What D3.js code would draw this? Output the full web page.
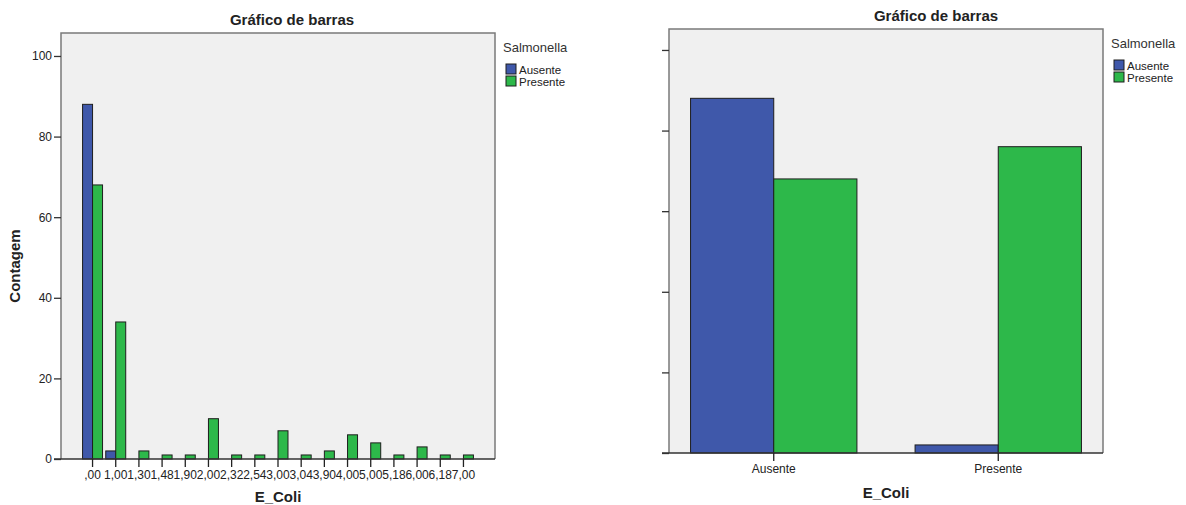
<!DOCTYPE html>
<html>
<head>
<meta charset="utf-8">
<script src="https://cdn.jsdelivr.net/npm/d3@7"></script>
<style>
  body { margin: 0; background: #fff; }
  svg { font-family: "Liberation Sans", Arial, sans-serif; }
</style>
</head>
<body>
<svg id="chart" width="1186" height="505"></svg>
<script>
// E_Coli values on the left chart
const eColiCats = [',00', '1,00', '1,30', '1,48', '1,90', '2,00', '2,32', '2,54', '3,00',
  '3,04', '3,90', '4,00', '5,00', '5,18', '6,00', '6,18', '7,00'];
const ausenteCounts = [88, 2, 0, 0, 0, 0, 0, 0, 0, 0, 0, 0, 0, 0, 0, 0, 0];
const presenteCounts = [68, 34, 2, 1, 1, 10, 1, 1, 7, 1, 2, 6, 4, 1, 3, 1, 1];

// E_Coli as categories on the right chart
const eColiGroups = ['Ausente', 'Presente'];
const groupAusente = [88, 2];
const groupPresente = [68, 76];

const salmonella = ['Ausente', 'Presente'];
const yTicks = [0, 20, 40, 60, 80, 100];

const colors = { Ausente: '#3f58aa', Presente: '#2db84a' };
const svg = d3.select('#chart');

function drawPanel(cfg) {
  const g = svg.append('g');
  const x = d3.scaleBand()
    .domain(cfg.cats)
    .range([cfg.left, cfg.right])
    .paddingInner(cfg.padIn)
    .paddingOuter(cfg.padOut);
  const xs = d3.scaleBand().domain(salmonella).range([0, x.bandwidth()]);
  const y = d3.scaleLinear().domain([0, cfg.yMax]).range([cfg.bottom, cfg.top]);

  // plot background
  g.append('rect')
    .attr('x', cfg.left).attr('y', cfg.top)
    .attr('width', cfg.right - cfg.left).attr('height', cfg.bottom - cfg.top)
    .attr('fill', '#f0f0f0');

  // bars
  const rows = cfg.cats.map((c, i) => ({ cat: c, Ausente: cfg.a[i], Presente: cfg.p[i] }));
  g.append('g').selectAll('g')
    .data(rows)
    .enter().append('g')
    .attr('transform', d => `translate(${x(d.cat)},0)`)
    .selectAll('rect')
    .data(d => salmonella.map(s => ({ s, v: d[s] })).filter(e => e.v > 0))
    .enter().append('rect')
    .attr('x', d => xs(d.s))
    .attr('width', xs.bandwidth())
    .attr('y', d => y(d.v))
    .attr('height', d => y(0) - y(d.v))
    .attr('fill', d => colors[d.s])
    .attr('stroke', '#1e1e1e')
    .attr('stroke-width', 1);

  // frame (top, left, right)
  g.append('path')
    .attr('d', `M${cfg.left},${cfg.bottom}V${cfg.top}H${cfg.right}V${cfg.bottom}`)
    .attr('fill', 'none')
    .attr('stroke', '#7a7a7a')
    .attr('stroke-width', 1.5);

  // y axis
  const yAxis = d3.axisLeft(y).tickValues(yTicks).tickSize(7).tickPadding(2)
    .tickFormat(cfg.yLabels ? d3.format('d') : '');
  const ya = g.append('g').attr('transform', `translate(${cfg.left},0)`).call(yAxis);
  ya.select('.domain').remove();
  ya.selectAll('line').attr('stroke', '#333').attr('stroke-width', 1.3);
  ya.selectAll('text').attr('font-size', 12).attr('fill', '#222')
    .attr('font-family', '"Liberation Sans", Arial, sans-serif');

  // x axis
  const xAxis = d3.axisBottom(x).tickSize(8).tickPadding(3).tickSizeOuter(0);
  const xa = g.append('g').attr('transform', `translate(0,${cfg.bottom})`).call(xAxis);
  xa.select('.domain').attr('d', `M${cfg.left - 7},0H${cfg.right}`)
    .attr('stroke', '#333').attr('stroke-width', 1.3);
  xa.selectAll('line').attr('stroke', '#222').attr('stroke-width', 1.3);
  xa.selectAll('text').attr('font-size', cfg.xFont).attr('fill', '#222')
    .attr('font-family', '"Liberation Sans", Arial, sans-serif');

  // title and axis labels
  g.append('text')
    .attr('x', cfg.titleX).attr('y', cfg.top - 8)
    .attr('text-anchor', 'middle')
    .attr('font-size', 15).attr('font-weight', 'bold').attr('fill', '#222')
    .text('Gráfico de barras');
  g.append('text')
    .attr('x', (cfg.left + cfg.right) / 2).attr('y', cfg.xLabelY)
    .attr('text-anchor', 'middle')
    .attr('font-size', 15).attr('font-weight', 'bold').attr('fill', '#222')
    .text('E_Coli');
  if (cfg.yLabel) {
    g.append('text')
      .attr('transform', `translate(20,${(cfg.top + cfg.bottom) / 2 + 20}) rotate(-90)`)
      .attr('text-anchor', 'middle')
      .attr('font-size', 15).attr('font-weight', 'bold').attr('fill', '#222')
      .text(cfg.yLabel);
  }

  // legend
  const lg = g.append('g').attr('transform', `translate(${cfg.right + 8},0)`);
  lg.append('text')
    .attr('x', 0).attr('y', cfg.top + 19)
    .attr('font-size', 13).attr('fill', '#333')
    .text('Salmonella');
  const item = lg.selectAll('g.item')
    .data(salmonella)
    .enter().append('g')
    .attr('class', 'item')
    .attr('transform', (d, i) => `translate(3,${cfg.top + 31 + i * 12})`);
  item.append('rect')
    .attr('width', 10).attr('height', 10)
    .attr('fill', d => colors[d])
    .attr('stroke', '#1e1e1e');
  item.append('text')
    .attr('x', 13).attr('y', 9.5)
    .attr('font-size', 11.5).attr('fill', '#222')
    .text(d => d);
}

drawPanel({
  cats: eColiCats, a: ausenteCounts, p: presenteCounts,
  left: 61, right: 495, top: 33, bottom: 459, yMax: 105.7,
  padIn: 0.138, padOut: 0.93,
  yLabels: true, yLabel: 'Contagem', xFont: 12,
  titleX: 292, xLabelY: 502
});

drawPanel({
  cats: eColiGroups, a: groupAusente, p: groupPresente,
  left: 669, right: 1103, top: 29, bottom: 453, yMax: 105.2,
  padIn: 0.259, padOut: 0.096,
  yLabels: false, yLabel: null, xFont: 12,
  titleX: 936, xLabelY: 498
});
</script>
</body>
</html>
